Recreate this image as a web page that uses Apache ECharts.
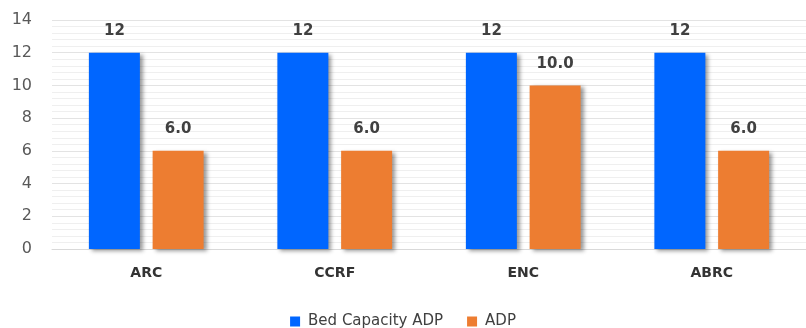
<!DOCTYPE html>
<html><head><meta charset="utf-8">
<script src="https://cdn.jsdelivr.net/npm/echarts@6/dist/echarts.min.js"></script>
<style>html,body{margin:0;padding:0;background:#fff}#c{width:806px;height:328px}</style>
</head><body><div id="c"></div>
<script>
const categories = ['ARC', 'CCRF', 'ENC', 'ABRC'];
const bedCapacity = [12, 12, 12, 12];
const adp = [6.0, 6.0, 10.0, 6.0];
const seriesNames = ['Bed Capacity ADP', 'ADP'];

const chart = echarts.init(document.getElementById('c'));
const shadow = {shadowColor: 'rgba(0,0,0,0.4)', shadowBlur: 4, shadowOffsetX: 3, shadowOffsetY: 2};
chart.setOption({
  animation: false,
  grid: {left: 52, right: 0, top: 20, bottom: 79},
  legend: {
    top: 314, left: 'center', padding: 0, itemWidth: 10, itemHeight: 10, itemGap: 24,
    icon: 'rect',
    textStyle: {fontFamily: 'DejaVu Sans', fontSize: 15, lineHeight: 15, color: '#404040', padding: [0, 0, 0, 3]},
    data: seriesNames
  },
  xAxis: {
    type: 'category', data: categories,
    axisLine: {lineStyle: {color: '#d9d9d9'}},
    axisTick: {show: false},
    axisLabel: {margin: 17, fontFamily: 'DejaVu Sans', fontWeight: 'bold', fontSize: 14, color: '#333333'}
  },
  yAxis: {
    type: 'value', min: 0, max: 14, interval: 2,
    axisLine: {show: false}, axisTick: {show: false},
    axisLabel: {margin: 20, fontFamily: 'DejaVu Sans', fontSize: 16, color: '#595959'},
    splitLine: {lineStyle: {color: '#e3e3e3'}},
    minorTick: {show: false, splitNumber: 5},
    minorSplitLine: {show: true, lineStyle: {color: '#efefef'}}
  },
  series: [
    {
      name: seriesNames[0], type: 'bar', data: bedCapacity, barWidth: 51, barGap: '25%',
      itemStyle: Object.assign({color: '#0066ff'}, shadow),
      label: {show: true, position: 'top', distance: 14, fontFamily: 'DejaVu Sans', fontWeight: 'bold', fontSize: 15, color: '#404040',
        formatter: p => String(p.value)}
    },
    {
      name: seriesNames[1], type: 'bar', data: adp, barWidth: 51,
      itemStyle: Object.assign({color: '#ed7d31'}, shadow),
      label: {show: true, position: 'top', distance: 14, fontFamily: 'DejaVu Sans', fontWeight: 'bold', fontSize: 15, color: '#404040',
        formatter: p => p.value.toFixed(1)}
    }
  ]
});
</script></body></html>
